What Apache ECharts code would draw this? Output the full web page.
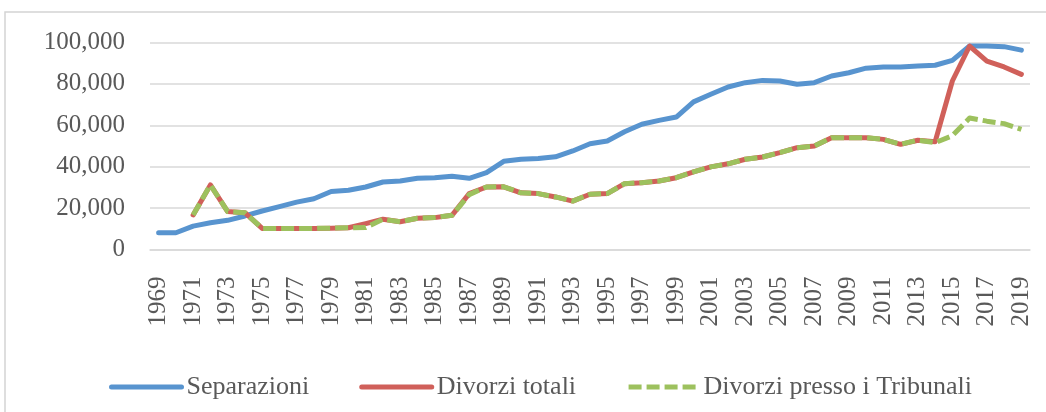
<!DOCTYPE html>
<html>
<head>
<meta charset="utf-8">
<script src="https://cdn.jsdelivr.net/npm/echarts@6/dist/echarts.min.js"></script>
<style>
html,body{margin:0;padding:0;background:#fff;}
#c{width:1046px;height:412px;}
</style>
</head>
<body>
<div id="c"></div>
<script>
const years = [];
for (let y = 1969; y <= 2019; y++) years.push(String(y));

const separazioni = [8100, 8100, 11300, 12900, 14100, 16200, 18600, 20700, 22900, 24500,
  28000, 28600, 30200, 32600, 33100, 34400, 34700, 35400, 34400, 37100,
  42600, 43600, 44000, 44800, 47600, 51100, 52400, 56900, 60500, 62400,
  64000, 71300, 75000, 78500, 80600, 81700, 81400, 79800, 80600, 83800,
  85400, 87600, 88200, 88200, 88600, 89000, 91400, 98300, 98300, 98000, 96300];

const divorziTotali = [null, null, 16700, 31200, 18300, 17800, 10200, 10200, 10200, 10200,
  10300, 10500, 12500, 14600, 13400, 15100, 15400, 16500, 27000, 30200,
  30300, 27400, 27000, 25400, 23400, 26700, 27000, 31800, 32300, 33100,
  34700, 37500, 39900, 41400, 43600, 44700, 46800, 49200, 50000, 54000,
  54000, 54000, 53200, 50800, 52800, 52000, 81400, 98300, 91000, 88200, 84600];

const divorziTribunali = [null, null, 16700, 31200, 18300, 17800, 10200, 10200, 10200, 10200,
  10300, 10500, 10600, 14600, 13400, 15100, 15400, 16500, 26500, 30200,
  30300, 27400, 27000, 25400, 23400, 26700, 27000, 31800, 32300, 33100,
  34700, 37500, 39900, 41400, 43600, 44700, 46800, 49200, 50000, 54000,
  54000, 54000, 53200, 50800, 52800, 51600, 55000, 63500, 62000, 60800, 58000];

const seriesNames = ['Separazioni', 'Divorzi totali', 'Divorzi presso i Tribunali'];
const colors = ['#5894CF', '#D0605A', '#9DC15E'];

const font = 'Liberation Serif';
const chart = echarts.init(document.getElementById('c'), null, {renderer: 'canvas'});
chart.setOption({
  backgroundColor: '#ffffff',
  animation: false,
  graphic: [{
    type: 'rect',
    shape: {x: 5, y: 12, width: 1060, height: 420},
    style: {fill: 'none', stroke: '#D4D4D4', lineWidth: 1.5},
    silent: true
  }],
  grid: {left: 150, right: 16, top: 42.5, bottom: 162.5},
  legend: {
    left: 104, top: 369,
    itemWidth: 70, itemHeight: 14, itemGap: 50,
    itemStyle: {opacity: 0},
    lineStyle: {width: 5},
    textStyle: {fontFamily: font, fontSize: 26, color: '#595959'},
    data: seriesNames
  },
  xAxis: {
    type: 'category',
    data: years,
    boundaryGap: true,
    axisLine: {show: true, lineStyle: {color: '#D9D9D9', width: 1.5}},
    axisTick: {show: false},
    axisLabel: {
      interval: 1, rotate: 90, margin: 27,
      fontFamily: font, fontSize: 25, color: '#595959'
    }
  },
  yAxis: {
    type: 'value',
    min: 0, max: 100000, interval: 20000,
    axisLine: {show: false},
    axisTick: {show: false},
    splitLine: {lineStyle: {color: '#D9D9D9', width: 1.5}},
    axisLabel: {
      margin: 25, fontFamily: font, fontSize: 25, color: '#595959',
      formatter: v => v.toLocaleString('en-US')
    }
  },
  series: [
    {
      name: seriesNames[0], type: 'line', data: separazioni,
      symbol: 'none', color: colors[0],
      lineStyle: {width: 5, color: colors[0], join: 'round', cap: 'round'}
    },
    {
      name: seriesNames[1], type: 'line', data: divorziTotali,
      symbol: 'none', color: colors[1],
      lineStyle: {width: 5, color: colors[1], join: 'round', cap: 'round'}
    },
    {
      name: seriesNames[2], type: 'line', data: divorziTribunali,
      symbol: 'none', color: colors[2],
      lineStyle: {width: 5, color: colors[2], type: [13, 5], join: 'round', cap: 'butt'}
    }
  ]
});
</script>
</body>
</html>
